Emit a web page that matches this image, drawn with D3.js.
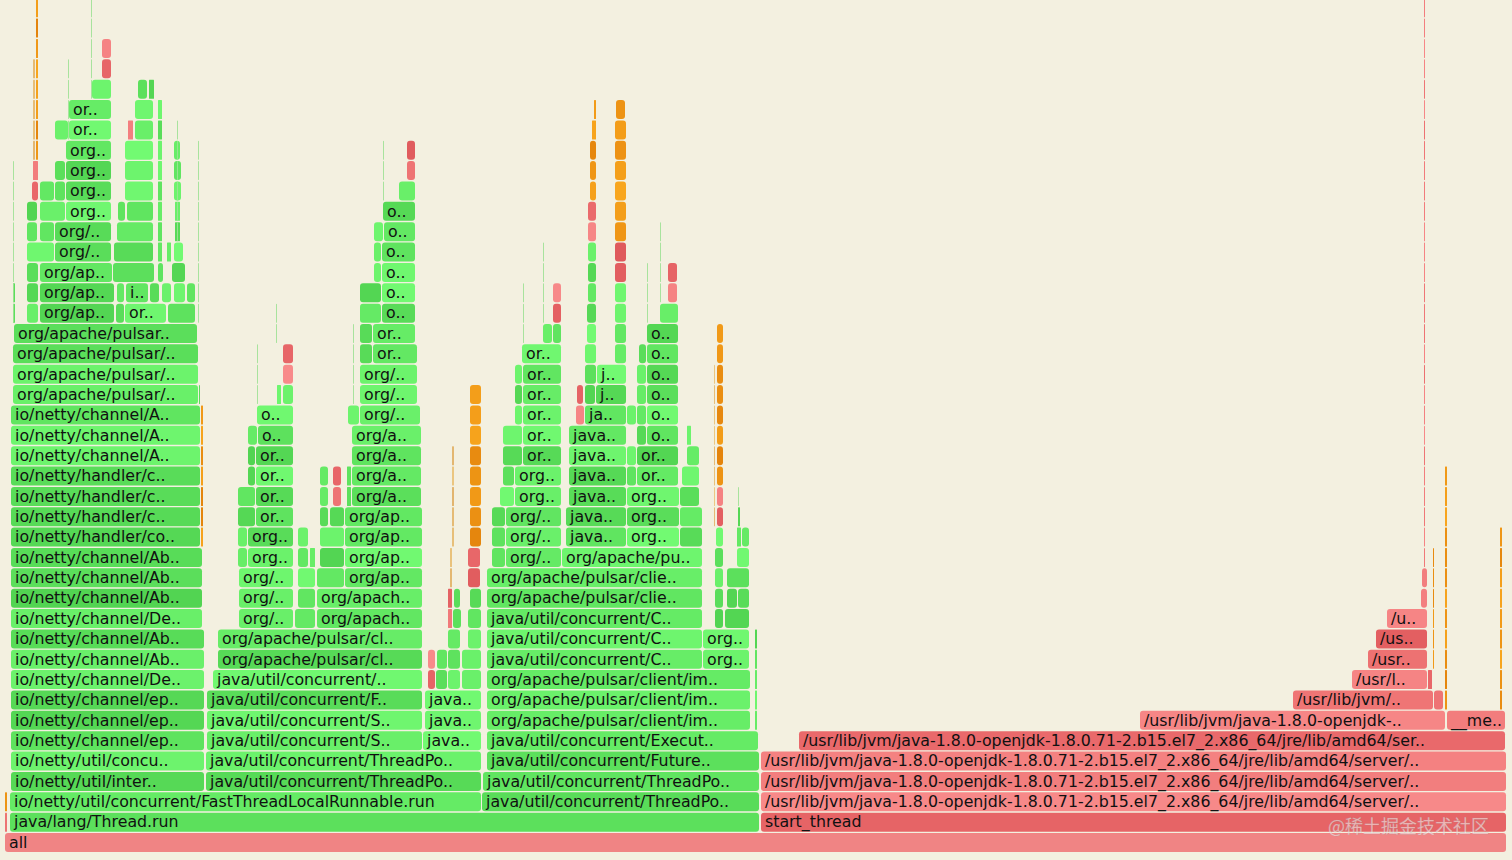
<!DOCTYPE html>
<html>
<head>
<meta charset="utf-8">
<script src="https://cdn.jsdelivr.net/npm/d3@7"></script>
<style>
html,body{margin:0;padding:0;background:#f3f0e0;}
svg{display:block;}
</style>
</head>
<body>
<svg id="chart" width="1512" height="860"></svg>
<script>
// ---------------- DATA ----------------
const TOTAL_SAMPLES = 1502;
const MAX_DEPTH = 41;
const LONG1 = "/usr/lib/jvm/java-1.8.0-openjdk-1.8.0.71-2.b15.el7_2.x86_64/jre/lib/amd64/server/..";
const LONG2 = "/usr/lib/jvm/java-1.8.0-openjdk-1.8.0.71-2.b15.el7_2.x86_64/jre/lib/amd64/ser..";

// frame colour kinds: g = java (green), r = native (red), R = native darker, o = kernel (orange), y = inlined (tan), l = tiny
// [depth, startSample, sampleCount, kind, label]
const baseFrames = [
  [0, 0, 1502, 'r', 'all'],
  [1, 0, 3, 'r', ''], [1, 5, 750, 'g', 'java/lang/Thread.run'], [1, 756, 746, 'R', 'start_thread'],
  [2, 0, 3, 'o', ''], [2, 5, 472, 'g', 'io/netty/util/concurrent/FastThreadLocalRunnable.run'],
  [2, 477, 278, 'g', 'java/util/concurrent/ThreadPo..'], [2, 756, 746, 'r', LONG1],
  [3, 6, 194, 'g', 'io/netty/util/inter..'], [3, 201, 276, 'g', 'java/util/concurrent/ThreadPo..'],
  [3, 478, 277, 'g', 'java/util/concurrent/ThreadPo..'], [3, 756, 746, 'r', LONG1],
  [4, 6, 194, 'g', 'io/netty/util/concu..'], [4, 201, 276, 'g', 'java/util/concurrent/ThreadPo..'],
  [4, 482, 273, 'g', 'java/util/concurrent/Future..'], [4, 756, 746, 'r', LONG1],
  [5, 6, 194, 'g', 'io/netty/channel/ep..'], [5, 202, 216, 'g', 'java/util/concurrent/S..'],
  [5, 418, 59, 'g', 'java..'], [5, 482, 272, 'g', 'java/util/concurrent/Execut..'],
  [5, 794, 707, 'R', LONG2]
];

const netty = [
  [6, 6, 194, 'g', 'io/netty/channel/ep..'], [7, 6, 194, 'g', 'io/netty/channel/ep..'],
  [8, 6, 194, 'g', 'io/netty/channel/De..'], [9, 6, 194, 'g', 'io/netty/channel/Ab..'],
  [10, 6, 194, 'g', 'io/netty/channel/Ab..'], [11, 6, 192, 'g', 'io/netty/channel/De..'],
  [12, 6, 192, 'g', 'io/netty/channel/Ab..'], [13, 6, 192, 'g', 'io/netty/channel/Ab..'],
  [14, 6, 192, 'g', 'io/netty/channel/Ab..'], [15, 6, 190, 'g', 'io/netty/handler/co..'],
  [16, 6, 190, 'g', 'io/netty/handler/c..'], [17, 6, 190, 'g', 'io/netty/handler/c..'],
  [18, 6, 190, 'g', 'io/netty/handler/c..'], [19, 6, 190, 'g', 'io/netty/channel/A..'],
  [20, 6, 190, 'g', 'io/netty/channel/A..'], [21, 6, 190, 'g', 'io/netty/channel/A..'],
  [22, 8, 186, 'g', 'org/apache/pulsar/..'], [22, 194, 2, 'g', ''],
  [23, 8, 186, 'g', 'org/apache/pulsar/..'], [24, 8, 186, 'g', 'org/apache/pulsar/..'],
  [25, 9, 184, 'g', 'org/apache/pulsar..'],
  [26, 8, 3, 'g', ''], [26, 22, 12, 'g', ''], [26, 35, 75, 'g', 'org/ap..'], [26, 111, 9, 'g', ''],
  [26, 120, 42, 'g', 'or..'], [26, 163, 28, 'g', ''],
  [27, 8, 3, 'g', ''], [27, 22, 12, 'g', ''], [27, 35, 75, 'g', 'org/ap..'], [27, 112, 8, 'g', ''],
  [27, 121, 23, 'g', 'i..'], [27, 145, 10, 'g', ''], [27, 157, 10, 'g', ''], [27, 169, 12, 'g', ''], [27, 182, 9, 'g', ''],
  [28, 22, 12, 'g', ''], [28, 35, 73, 'g', 'org/ap..'], [28, 108, 42, 'g', ''], [28, 153, 6, 'g', ''], [28, 167, 14, 'g', ''],
  [29, 22, 28, 'g', ''], [29, 50, 57, 'g', 'org/..'], [29, 109, 40, 'g', ''], [29, 153, 5, 'g', ''],
  [29, 162, 5, 'g', ''], [29, 169, 10, 'g', ''],
  [30, 22, 11, 'g', ''], [30, 35, 15, 'g', ''], [30, 50, 57, 'g', 'org/..'], [30, 112, 37, 'g', ''],
  [30, 153, 5, 'g', ''], [30, 170, 6, 'g', ''],
  [31, 22, 11, 'g', ''], [31, 35, 26, 'g', ''], [31, 61, 46, 'g', 'org..'], [31, 113, 8, 'g', ''],
  [31, 122, 27, 'g', ''], [31, 153, 5, 'g', ''], [31, 170, 6, 'g', ''],
  [32, 27, 7, 'R', ''], [32, 35, 15, 'g', ''], [32, 50, 11, 'g', ''], [32, 61, 46, 'g', 'org..'],
  [32, 120, 29, 'g', ''], [32, 153, 5, 'g', ''], [32, 169, 8, 'g', ''],
  [33, 28, 6, 'r', ''], [33, 50, 11, 'g', ''], [33, 61, 46, 'g', 'org..'], [33, 120, 29, 'g', ''],
  [33, 153, 5, 'g', ''], [33, 169, 8, 'g', ''],
  [34, 61, 46, 'g', 'org..'], [34, 120, 29, 'g', ''], [34, 153, 5, 'g', ''], [34, 169, 7, 'g', ''],
  [35, 50, 14, 'g', ''], [35, 64, 43, 'g', 'or..'], [35, 123, 6, 'r', ''], [35, 130, 19, 'g', ''], [35, 153, 5, 'g', ''],
  [36, 64, 43, 'g', 'or..'], [36, 130, 19, 'g', ''], [36, 153, 5, 'g', ''],
  [37, 87, 20, 'g', ''], [37, 133, 10, 'g', ''], [37, 144, 6, 'g', ''],
  [38, 97, 10, 'R', ''], [39, 97, 10, 'r', '']
];

const executor = [
  [6, 202, 216, 'g', 'java/util/concurrent/S..'], [6, 420, 57, 'g', 'java..'],
  [7, 202, 216, 'g', 'java/util/concurrent/F..'], [7, 420, 57, 'g', 'java..'],
  [8, 208, 210, 'g', 'java/util/concurrent/..'], [8, 423, 8, 'R', ''], [8, 431, 12, 'g', ''],
  [8, 443, 13, 'g', ''], [8, 457, 20, 'g', ''],
  [9, 213, 205, 'g', 'org/apache/pulsar/cl..'], [9, 423, 8, 'r', ''], [9, 432, 11, 'g', ''],
  [9, 443, 13, 'g', ''], [9, 457, 20, 'g', ''],
  [10, 213, 205, 'g', 'org/apache/pulsar/cl..'], [10, 443, 13, 'g', ''], [10, 463, 14, 'g', ''],
  [11, 234, 55, 'g', 'org/..'], [11, 290, 21, 'g', ''], [11, 312, 106, 'g', 'org/apach..'],
  [11, 443, 5, 'r', ''], [11, 448, 9, 'g', ''], [11, 463, 14, 'g', ''],
  [12, 234, 55, 'g', 'org/..'], [12, 293, 18, 'g', ''], [12, 312, 106, 'g', 'org/apach..'],
  [12, 443, 5, 'R', ''], [12, 449, 7, 'g', ''], [12, 465, 12, 'g', ''],
  [13, 234, 55, 'g', 'org/..'], [13, 293, 18, 'g', ''], [13, 312, 28, 'g', ''], [13, 340, 78, 'g', 'org/ap..'],
  [13, 445, 3, 'y', ''], [13, 463, 13, 'R', ''],
  [14, 233, 10, 'g', ''], [14, 243, 46, 'g', 'org..'], [14, 293, 11, 'g', ''], [14, 305, 6, 'g', ''],
  [14, 315, 25, 'g', ''], [14, 340, 78, 'g', 'org/ap..'], [14, 445, 3, 'y', ''], [14, 463, 13, 'R', ''],
  [15, 233, 10, 'g', ''], [15, 243, 46, 'g', 'org..'], [15, 293, 11, 'g', ''], [15, 315, 25, 'g', ''],
  [15, 340, 78, 'g', 'org/ap..'],
  [16, 233, 18, 'g', ''], [16, 251, 38, 'g', 'or..'], [16, 315, 9, 'g', ''], [16, 325, 15, 'g', ''],
  [16, 340, 78, 'g', 'org/ap..'],
  [17, 233, 18, 'g', ''], [17, 251, 38, 'g', 'or..'], [17, 315, 9, 'g', ''], [17, 328, 9, 'r', ''],
  [17, 342, 5, 'g', ''], [17, 347, 70, 'g', 'org/a..'],
  [18, 243, 8, 'g', ''], [18, 251, 38, 'g', 'or..'], [18, 315, 9, 'g', ''], [18, 328, 9, 'R', ''],
  [18, 342, 5, 'g', ''], [18, 347, 70, 'g', 'org/a..'],
  [19, 243, 8, 'g', ''], [19, 251, 38, 'g', 'or..'], [19, 347, 70, 'g', 'org/a..'],
  [20, 243, 10, 'g', ''], [20, 253, 36, 'g', 'o..'], [20, 347, 70, 'g', 'org/a..'],
  [21, 252, 37, 'g', 'o..'], [21, 343, 12, 'g', ''], [21, 355, 61, 'g', 'org/..'],
  [22, 272, 5, 'g', ''], [22, 278, 11, 'g', ''], [22, 355, 58, 'g', 'org/..'],
  [23, 278, 11, 'r', ''], [23, 355, 58, 'g', 'org/..'],
  [24, 278, 11, 'R', ''], [24, 355, 13, 'g', ''], [24, 368, 45, 'g', 'or..'],
  [25, 355, 13, 'g', ''], [25, 368, 43, 'g', 'or..'],
  [26, 355, 22, 'g', ''], [26, 377, 34, 'g', 'o..'],
  [27, 355, 22, 'g', ''], [27, 377, 34, 'g', 'o..'],
  [28, 369, 8, 'g', ''], [28, 377, 34, 'g', 'o..'],
  [29, 369, 8, 'g', ''], [29, 377, 34, 'g', 'o..'],
  [30, 369, 10, 'g', ''], [30, 379, 32, 'g', 'o..'],
  [31, 378, 33, 'g', 'o..'], [32, 394, 17, 'g', ''], [33, 402, 9, 'r', ''], [34, 402, 9, 'R', '']
];

const pulsarClient = [
  [6, 482, 264, 'g', 'org/apache/pulsar/client/im..'], [6, 750, 3, 'g', ''],
  [7, 482, 264, 'g', 'org/apache/pulsar/client/im..'], [7, 750, 3, 'g', ''],
  [8, 482, 264, 'g', 'org/apache/pulsar/client/im..'], [8, 750, 3, 'g', ''],
  [9, 482, 216, 'g', 'java/util/concurrent/C..'], [9, 698, 47, 'g', 'org..'], [9, 750, 3, 'g', ''],
  [10, 482, 216, 'g', 'java/util/concurrent/C..'], [10, 698, 47, 'g', 'org..'], [10, 750, 3, 'g', ''],
  [11, 482, 216, 'g', 'java/util/concurrent/C..'], [11, 710, 9, 'g', ''], [11, 720, 25, 'g', ''],
  [12, 482, 216, 'g', 'org/apache/pulsar/clie..'], [12, 710, 9, 'g', ''], [12, 722, 11, 'g', ''], [12, 733, 12, 'g', ''],
  [13, 482, 216, 'g', 'org/apache/pulsar/clie..'], [13, 710, 9, 'g', ''], [13, 722, 23, 'g', ''],
  [14, 487, 14, 'g', ''], [14, 501, 56, 'g', 'org/..'], [14, 557, 141, 'g', 'org/apache/pu..'],
  [14, 710, 9, 'g', ''], [14, 732, 13, 'g', ''],
  [15, 487, 14, 'g', ''], [15, 501, 56, 'g', 'org/..'], [15, 561, 61, 'g', 'java..'], [15, 622, 53, 'g', 'org..'],
  [15, 675, 23, 'g', ''], [15, 711, 8, 'g', ''], [15, 732, 5, 'g', ''], [15, 737, 8, 'g', ''],
  [16, 487, 14, 'g', ''], [16, 501, 56, 'g', 'org/..'], [16, 561, 61, 'g', 'java..'], [16, 622, 53, 'g', 'org..'],
  [16, 675, 23, 'g', ''], [16, 712, 7, 'R', ''], [16, 733, 3, 'g', ''],
  [17, 495, 15, 'g', ''], [17, 510, 47, 'g', 'org..'], [17, 564, 58, 'g', 'java..'], [17, 622, 53, 'g', 'org..'],
  [17, 675, 20, 'g', ''], [17, 712, 7, 'r', ''],
  [18, 498, 12, 'g', ''], [18, 510, 47, 'g', 'org..'], [18, 564, 58, 'g', 'java..'], [18, 622, 10, 'g', ''],
  [18, 632, 42, 'g', 'or..'], [18, 677, 18, 'g', ''],
  [19, 498, 20, 'g', ''], [19, 518, 39, 'g', 'or..'], [19, 564, 58, 'g', 'java..'], [19, 622, 10, 'g', ''],
  [19, 632, 42, 'g', 'or..'], [19, 682, 13, 'g', ''],
  [20, 498, 20, 'g', ''], [20, 518, 39, 'g', 'or..'], [20, 564, 58, 'g', 'java..'], [20, 632, 10, 'g', ''],
  [20, 642, 32, 'g', 'o..'], [20, 682, 5, 'g', ''],
  [21, 510, 8, 'g', ''], [21, 518, 39, 'g', 'or..'], [21, 571, 9, 'r', ''], [21, 580, 42, 'g', 'ja..'],
  [21, 622, 10, 'g', ''], [21, 632, 10, 'g', ''], [21, 642, 32, 'g', 'o..'],
  [22, 510, 8, 'g', ''], [22, 518, 39, 'g', 'or..'], [22, 572, 7, 'R', ''], [22, 580, 11, 'g', ''],
  [22, 591, 31, 'g', 'j..'], [22, 632, 10, 'g', ''], [22, 642, 32, 'g', 'o..'],
  [23, 510, 8, 'g', ''], [23, 518, 39, 'g', 'or..'], [23, 580, 12, 'g', ''], [23, 592, 30, 'g', 'j..'],
  [23, 632, 10, 'g', ''], [23, 642, 32, 'g', 'o..'],
  [24, 517, 40, 'g', 'or..'], [24, 580, 12, 'g', ''], [24, 610, 12, 'g', ''], [24, 634, 8, 'g', ''], [24, 642, 32, 'g', 'o..'],
  [25, 538, 10, 'g', ''], [25, 548, 9, 'g', ''], [25, 582, 10, 'g', ''], [25, 610, 12, 'g', ''], [25, 642, 32, 'g', 'o..'],
  [26, 548, 9, 'R', ''], [26, 582, 10, 'g', ''], [26, 610, 12, 'g', ''], [26, 655, 19, 'g', ''],
  [27, 548, 9, 'r', ''], [27, 583, 9, 'g', ''], [27, 610, 12, 'g', ''], [27, 663, 10, 'r', ''],
  [28, 583, 9, 'g', ''], [28, 610, 12, 'R', ''], [28, 663, 10, 'R', ''],
  [29, 583, 9, 'g', ''], [29, 610, 12, 'R', ''],
  [30, 583, 9, 'r', ''], [30, 610, 12, 'o', ''],
  [31, 583, 9, 'R', ''], [31, 610, 12, 'o', ''],
  [32, 585, 7, 'o', ''], [32, 610, 12, 'o', ''], [33, 585, 7, 'o', ''], [33, 610, 12, 'o', ''],
  [34, 585, 7, 'o', ''], [34, 610, 12, 'o', ''], [35, 587, 5, 'o', ''], [35, 610, 12, 'o', ''],
  [36, 589, 3, 'o', ''], [36, 611, 10, 'o', '']
];

const jvmNative = [
  [6, 1135, 306, 'r', '/usr/lib/jvm/java-1.8.0-openjdk-..'], [6, 1442, 59, 'r', '__me..'],
  [7, 1288, 141, 'r', '/usr/lib/jvm/..'], [7, 1429, 10, 'r', ''],
  [8, 1347, 76, 'r', '/usr/l..'], [8, 1423, 5, 'R', ''],
  [9, 1363, 60, 'r', '/usr..'], [10, 1371, 52, 'R', '/us..'], [11, 1382, 41, 'r', '/u..'],
  [12, 1416, 7, 'r', ''], [13, 1417, 6, 'r', '']
];

// single-width call chains repeated over several depths: [fromDepth, toDepth, start, count, kind]
const towers = [
  [34, 41, 31, 3, 'o'], [34, 38, 28, 3, 'y'],
  [15, 21, 196, 3, 'o'], [15, 22, 465, 12, 'o'], [15, 19, 447, 3, 'y'],
  [18, 25, 712, 7, 'o'], [16, 23, 709, 2, 'y'],
  [14, 41, 1419, 2, 'r'], [7, 18, 1440, 3, 'o'], [7, 15, 1495, 3, 'o'], [9, 14, 1428, 2, 'o'],
  [26, 33, 8, 1, 'l'], [35, 38, 63, 1, 'l'], [37, 41, 86, 1, 'l'], [30, 35, 172, 1, 'l'],
  [26, 34, 193, 1, 'l'], [22, 24, 252, 1, 'l'], [25, 26, 271, 1, 'l'], [22, 25, 348, 1, 'l'],
  [32, 34, 378, 1, 'l'], [25, 27, 518, 1, 'l'], [26, 29, 538, 1, 'l'], [26, 28, 642, 1, 'l'],
  [27, 30, 655, 1, 'l'], [17, 17, 733, 1, 'l']
];

const watermarkText = "@稀土掘金技术社区";

// ---------------- RENDER ----------------
const svg = d3.select("#chart");
const W = 1512, H = 860;
svg.append("rect").attr("width", W).attr("height", H).attr("fill", "#f3f0e0");

const rowPitch = 20.36;
const x = d3.scaleLinear().domain([0, TOTAL_SAMPLES]).range([5, 1507]);
const y = d3.scaleLinear().domain([0, MAX_DEPTH]).range([833, 833 - MAX_DEPTH * rowPitch]);

const frames = [];
[baseFrames, netty, executor, pulsarClient, jvmNative].forEach(list =>
  list.forEach(f => frames.push({depth: f[0], start: f[1], count: f[2], kind: f[3], label: f[4]})));
towers.forEach(t => {
  for (let d = t[0]; d <= t[1]; d++) frames.push({depth: d, start: t[2], count: t[3], kind: t[4], label: ''});
});

function shade(f) {
  const s = f.depth * 7919 + f.start * 104729 + f.count * 31;
  return ((Math.sin(s) * 10000) % 1 + 1) % 1;
}
function colour(f) {
  const v = shade(f);
  switch (f.kind) {
    case 'g': return d3.rgb(82 + 32 * v, 212 + 38 * v, 82 + 32 * v);
    case 'r': return d3.rgb(236 + 12 * v, 112 + 26 * v, 112 + 26 * v);
    case 'R': return d3.rgb(222 + 12 * v, 88 + 18 * v, 90 + 18 * v);
    case 'o': return d3.rgb(228 + 20 * v, 132 + 34 * v, 12 + 18 * v);
    case 'y': return d3.rgb(226 + 10 * v, 180 + 20 * v, 110 + 20 * v);
    case 'l': return d3.rgb(160, 225, 150);
  }
  return "#888";
}
function fillFor(f) {
  if (f.label === 'all') return "#f08484";
  return colour(f);
}

const barH = 19;
const g = svg.append("g");
g.selectAll("rect.frame")
  .data(frames)
  .join("rect")
  .attr("class", "frame")
  .attr("x", d => x(d.start))
  .attr("y", d => y(d.depth))
  .attr("width", d => Math.max(0.9, x(d.start + d.count) - x(d.start) - 1))
  .attr("height", barH)
  .attr("rx", d => (x(d.start + d.count) - x(d.start)) > 6 ? 3 : 0.5)
  .attr("ry", d => (x(d.start + d.count) - x(d.start)) > 6 ? 3 : 0.5)
  .attr("fill", d => fillFor(d));

g.selectAll("text.lbl")
  .data(frames.filter(f => f.label))
  .join("text")
  .attr("class", "lbl")
  .attr("x", d => x(d.start) + 4)
  .attr("y", d => y(d.depth) + 14.8)
  .attr("font-family", "'DejaVu Sans', Verdana, sans-serif")
  .attr("font-size", 15.8)
  .attr("fill", "#111")
  .text(d => d.label);

svg.append("text")
  .attr("x", 1328)
  .attr("y", 833)
  .attr("font-family", "'Noto Sans CJK SC', sans-serif")
  .attr("font-size", 18)
  .attr("fill", "rgba(255,255,255,0.55)")
  .attr("stroke", "rgba(150,150,150,0.35)")
  .attr("stroke-width", 0.6)
  .text(watermarkText);
</script>
</body>
</html>
